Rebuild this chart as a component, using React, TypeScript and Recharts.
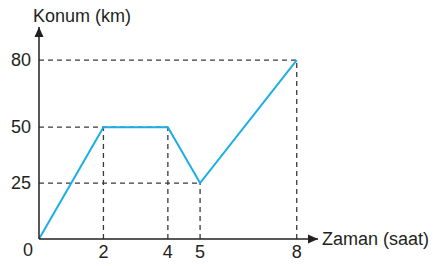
import React from "react";
import {
  LineChart,
  Line,
  XAxis,
  YAxis,
  ReferenceLine,
  ReferenceDot,
} from "recharts";

// Position-time data (saat, km)
const times = [0, 2, 4, 5, 8];
const positions = [0, 50, 50, 25, 80];
const xTicks = [2, 4, 5, 8];
const yTicks = [25, 50, 80];

const X_MAX = 8.66;
const Y_MAX = 94.8;

const INK = "#231f20";
const DASH = "#3a3a3a";
const BLUE = "#1aaee5";
const FONT = "'Liberation Sans', Arial, Helvetica, sans-serif";

const data = times.map((t, i) => ({ t, km: positions[i] }));

function XTick(props: any) {
  const { x, y, payload } = props;
  return (
    <text x={x} y={y + 11} textAnchor="middle" dominantBaseline="central" fontSize={18} fill={INK} fontFamily={FONT}>
      {payload.value}
    </text>
  );
}

function YTick(props: any) {
  const { x, y, payload } = props;
  return (
    <text x={x} y={y} textAnchor="end" dominantBaseline="central" fontSize={18} fill={INK} fontFamily={FONT}>
      {payload.value}
    </text>
  );
}

function RightArrow(props: any) {
  const { cx, cy } = props;
  return (
    <g>
      <path d={`M${cx} ${cy} L${cx - 10} ${cy - 4.5} L${cx - 10} ${cy + 4.5} Z`} fill={INK} />
      <text x={cx + 4} y={cy} dominantBaseline="central" fontSize={18} fill={INK} fontFamily={FONT}>
        Zaman (saat)
      </text>
    </g>
  );
}

function UpArrow(props: any) {
  const { cx, cy } = props;
  return (
    <g>
      <path d={`M${cx} ${cy} L${cx - 4.5} ${cy + 10} L${cx + 4.5} ${cy + 10} Z`} fill={INK} />
      <text x={cx - 6} y={cy - 5} fontSize={18} fill={INK} fontFamily={FONT}>
        Konum (km)
      </text>
    </g>
  );
}

function OriginLabel(props: any) {
  const { cx, cy } = props;
  return (
    <text x={cx - 11} y={cy + 11} textAnchor="middle" dominantBaseline="central" fontSize={18} fill={INK} fontFamily={FONT}>
      0
    </text>
  );
}

const dashed = { stroke: DASH, strokeDasharray: "5 4", strokeWidth: 1.3 };

export default function App() {
  return (
    <div style={{ position: "absolute", left: 0, top: 0, background: "#fff" }}>
      <LineChart
        width={442}
        height={266}
        data={data}
        margin={{ top: 27, right: 124, bottom: 0, left: 0 }}
      >
        <XAxis
          dataKey="t"
          type="number"
          domain={[0, X_MAX]}
          ticks={xTicks}
          height={27}
          tickLine={false}
          tickSize={0}
          tick={<XTick />}
          axisLine={{ stroke: INK, strokeWidth: 1.5 }}
          allowDataOverflow
        />
        <YAxis
          type="number"
          domain={[0, Y_MAX]}
          ticks={yTicks}
          width={39}
          tickLine={false}
          tickSize={8}
          tickMargin={0}
          tick={<YTick />}
          axisLine={{ stroke: INK, strokeWidth: 1.5 }}
          allowDataOverflow
        />

        <ReferenceLine segment={[{ x: 0, y: 80 }, { x: 8, y: 80 }]} {...dashed} />
        <ReferenceLine segment={[{ x: 8, y: 0 }, { x: 8, y: 80 }]} {...dashed} />
        <ReferenceLine segment={[{ x: 0, y: 50 }, { x: 4, y: 50 }]} {...dashed} />
        <ReferenceLine segment={[{ x: 2, y: 0 }, { x: 2, y: 50 }]} {...dashed} />
        <ReferenceLine segment={[{ x: 4, y: 0 }, { x: 4, y: 50 }]} {...dashed} />
        <ReferenceLine segment={[{ x: 0, y: 25 }, { x: 5, y: 25 }]} {...dashed} />
        <ReferenceLine segment={[{ x: 5, y: 0 }, { x: 5, y: 25 }]} {...dashed} />

        <Line
          type="linear"
          dataKey="km"
          stroke={BLUE}
          strokeWidth={2}
          dot={false}
          activeDot={false}
          isAnimationActive={false}
        />

        <ReferenceDot x={X_MAX} y={0} ifOverflow="visible" shape={<RightArrow />} />
        <ReferenceDot x={0} y={Y_MAX} ifOverflow="visible" shape={<UpArrow />} />
        <ReferenceDot x={0} y={0} ifOverflow="visible" shape={<OriginLabel />} />
      </LineChart>
    </div>
  );
}
